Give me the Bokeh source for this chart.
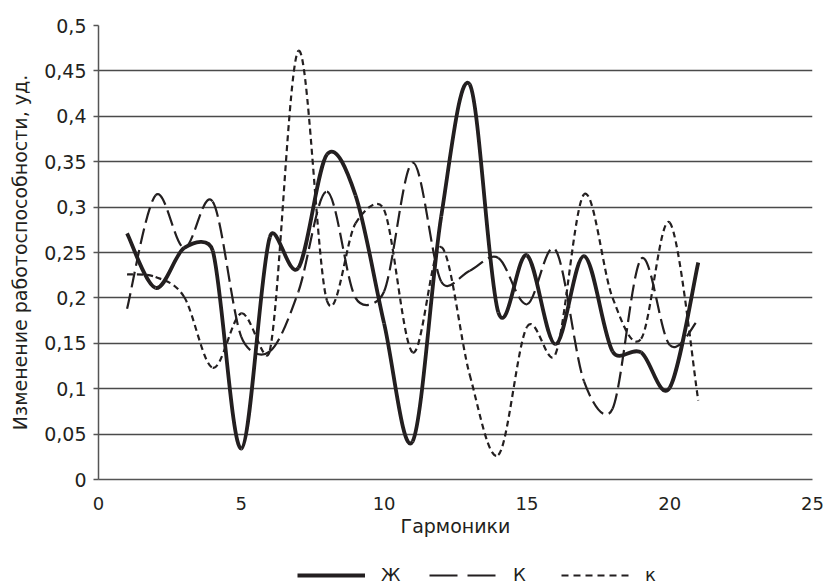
import numpy as np
from bokeh.plotting import figure
from bokeh.layouts import column
from bokeh.models import (Range1d, FixedTicker, CustomJSTickFormatter, Legend,
                          LegendItem, ColumnDataSource)
from bokeh.embed import file_html
from bokeh.resources import INLINE

# ---- data ----
harmonics = list(range(1, 22))
zh = [0.271, 0.211, 0.255, 0.252, 0.034, 0.267, 0.233, 0.358, 0.313, 0.172,
      0.042, 0.290, 0.435, 0.184, 0.247, 0.149, 0.246, 0.141, 0.140, 0.101, 0.239]
K_upper = [0.188, 0.313, 0.255, 0.306, 0.157, 0.141, 0.207, 0.317, 0.200, 0.207,
           0.349, 0.218, 0.230, 0.244, 0.193, 0.253, 0.108, 0.078, 0.243, 0.148, 0.176]
k_lower = [0.226, 0.223, 0.201, 0.123, 0.183, 0.142, 0.472, 0.197, 0.282, 0.297,
           0.140, 0.256, 0.115, 0.027, 0.168, 0.138, 0.314, 0.200, 0.155, 0.283, 0.087]
series_names = ["Ж", "К", "к"]
x_ticks = [0, 5, 10, 15, 20, 25]
y_ticks = [0, 0.05, 0.1, 0.15, 0.2, 0.25, 0.3, 0.35, 0.4, 0.45, 0.5]

INK = "#231f20"
FONT = "DejaVu Sans"
FRAME_W, FRAME_H = 714, 454
X_END, Y_END = 25, 0.5


def smooth_segments(xs, ys):
    """Bezier segments of a spreadsheet-style smoothed line through the data
    points: Catmull-Rom tangents (1/6), each control arm capped at half the
    on-screen length of its segment."""
    sx, sy = FRAME_W / X_END, FRAME_H / Y_END
    X = np.asarray(xs, dtype=float) * sx
    Y = np.asarray(ys, dtype=float) * sy
    n = len(X)
    Xp = np.concatenate([[X[0]], X, [X[-1]]])
    Yp = np.concatenate([[Y[0]], Y, [Y[-1]]])
    seg = dict(x0=[], y0=[], x1=[], y1=[], cx0=[], cy0=[], cx1=[], cy1=[])
    for i in range(n - 1):
        d12 = np.hypot(X[i + 1] - X[i], Y[i + 1] - Y[i])
        tx0, ty0 = Xp[i + 2] - Xp[i], Yp[i + 2] - Yp[i]
        tx1, ty1 = Xp[i + 3] - Xp[i + 1], Yp[i + 3] - Yp[i + 1]
        l0, l1 = np.hypot(tx0, ty0), np.hypot(tx1, ty1)
        f0 = min(1 / 6, 0.5 * d12 / l0) if l0 > 0 else 0
        f1 = min(1 / 6, 0.5 * d12 / l1) if l1 > 0 else 0
        seg["x0"].append(X[i] / sx); seg["y0"].append(Y[i] / sy)
        seg["x1"].append(X[i + 1] / sx); seg["y1"].append(Y[i + 1] / sy)
        seg["cx0"].append((X[i] + f0 * tx0) / sx)
        seg["cy0"].append((Y[i] + f0 * ty0) / sy)
        seg["cx1"].append((X[i + 1] - f1 * tx1) / sx)
        seg["cy1"].append((Y[i + 1] - f1 * ty1) / sy)
    return seg


p = figure(width=832, height=556,
           x_range=Range1d(0, X_END), y_range=Range1d(0, Y_END),
           output_backend="svg", toolbar_location=None,
           min_border_left=98, min_border_right=20, min_border_top=25,
           min_border_bottom=77)
p.outline_line_color = None
p.background_fill_color = "white"
p.border_fill_color = "white"

# grid
p.xgrid.grid_line_color = None
p.ygrid.ticker = FixedTicker(ticks=y_ticks)
p.ygrid.grid_line_color = "#4a4a4a"
p.ygrid.grid_line_width = 1.3

# axes
p.xaxis.ticker = FixedTicker(ticks=x_ticks)
p.yaxis.ticker = FixedTicker(ticks=y_ticks)
p.yaxis.formatter = CustomJSTickFormatter(
    code="return String(Math.round(tick*100)/100).replace('.', ',');")
for ax in (p.xaxis[0], p.yaxis[0]):
    ax.axis_line_color = "#555555"
    ax.axis_line_width = 1.5
    ax.major_label_text_font = FONT
    ax.major_label_text_color = INK
    ax.axis_label_text_font = FONT
    ax.axis_label_text_font_size = "19px"
    ax.axis_label_text_font_style = "normal"
    ax.axis_label_text_color = INK
    ax.minor_tick_line_color = None
p.xaxis.major_label_text_font_size = "18px"
p.yaxis.major_label_text_font_size = "19px"
p.xaxis.major_tick_line_color = None
p.xaxis.major_tick_out = 0
p.xaxis.major_tick_in = 0
p.xaxis.major_label_standoff = 17
p.xaxis.axis_label = "Гармоники"
p.xaxis.axis_label_standoff = 2
p.yaxis.major_tick_line_color = "#555555"
p.yaxis.major_tick_line_width = 1.5
p.yaxis.major_tick_out = 5
p.yaxis.major_tick_in = 0
p.yaxis.major_label_standoff = 7
p.yaxis.axis_label = "Изменение работоспособности, уд."
p.yaxis.axis_label_standoff = 10

# series
styles = [
    dict(line_width=3.8, line_dash="solid"),
    dict(line_width=2.2, line_dash="16 6"),
    dict(line_width=2.2, line_dash="6 4"),
]
legend_dash = ["solid", "28 10", "7 5"]

# legend strip below the chart (its own series copies lie outside its view)
lg = figure(width=832, height=29, x_range=Range1d(-3, -2), y_range=Range1d(0, 1),
            output_backend="svg", toolbar_location=None,
            x_axis_type=None, y_axis_type=None,
            min_border_left=0, min_border_right=0, min_border_top=0,
            min_border_bottom=0)
lg.outline_line_color = None
lg.xgrid.visible = False
lg.ygrid.visible = False

items = []
for name, ys, st, ldash in zip(series_names, [zh, K_upper, k_lower], styles, legend_dash):
    src = ColumnDataSource(smooth_segments(harmonics, ys))
    p.bezier(x0="x0", y0="y0", x1="x1", y1="y1", cx0="cx0", cy0="cy0",
             cx1="cx1", cy1="cy1", source=src, line_color=INK, **st)
    leg = lg.line(x=harmonics, y=ys, line_color=INK, line_width=st["line_width"],
                  line_dash=ldash)
    items.append(LegendItem(label=name, renderers=[leg]))

legend = Legend(items=items, orientation="horizontal", location=(199, 0),
                glyph_width=68, glyph_height=20, label_standoff=16, spacing=28,
                label_text_font=FONT, label_text_font_size="18px",
                label_text_color=INK, border_line_color=None,
                background_fill_alpha=0, padding=0, margin=0)
lg.add_layout(legend, "center")

layout = column(p, lg, spacing=0)
open("out.html", "w").write(file_html(layout, INLINE))
